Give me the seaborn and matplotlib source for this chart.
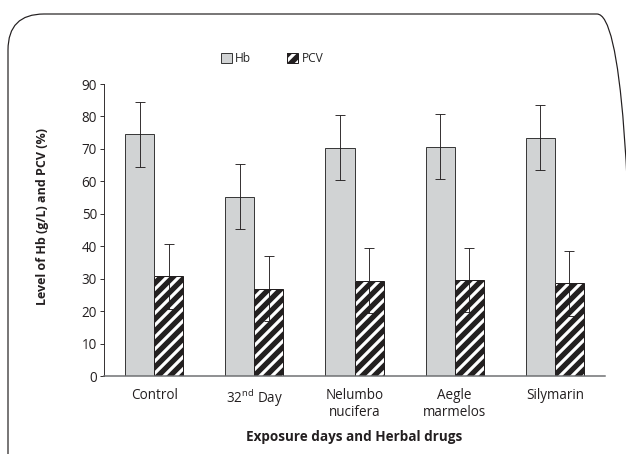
import numpy as np
import pandas as pd
import matplotlib
matplotlib.use("Agg")
import matplotlib.pyplot as plt
import seaborn as sns
from matplotlib.patches import FancyBboxPatch, Rectangle, Patch
from matplotlib.legend_handler import HandlerTuple

# ---- data --------------------------------------------------------------
groups = ["Control", "32$^{\\mathrm{nd}}$ Day", "Nelumbo\nnucifera",
          "Aegle\nmarmelos", "Silymarin"]
hb = [74.5, 55.3, 70.3, 70.6, 73.4]
pcv = [30.7, 26.9, 29.3, 29.6, 28.6]
hb_err = [10, 10, 10, 10, 10]
pcv_err = [10, 10, 10, 10, 10]
series = ["Hb", "PCV"]

df = pd.DataFrame({
    "group": groups * 2,
    "value": hb + pcv,
    "series": [series[0]] * len(groups) + [series[1]] * len(groups),
})

# ---- style -------------------------------------------------------------
sns.set_style("ticks")
plt.rcParams["font.family"] = ["Open Sans", "DejaVu Sans"]
plt.rcParams["mathtext.fontset"] = "custom"
plt.rcParams["mathtext.rm"] = "Open Sans"
plt.rcParams["hatch.linewidth"] = 3.2

GREY = "#d1d3d4"
DARK = "#231f20"
DPI = 72
fig = plt.figure(figsize=(626 / DPI, 454 / DPI), dpi=DPI)
ax = fig.add_axes([104 / 626, 78 / 454, 501 / 626, 292 / 454])

sns.barplot(data=df, x="group", y="value", hue="series", hue_order=series,
            palette=[GREY, DARK], width=0.58, gap=0, errorbar=None,
            edgecolor="#3a3a3a", linewidth=1.0, legend=False, ax=ax)

# PCV bars: black with white diagonal stripes
hb_bars, pcv_bars = ax.containers[0], ax.containers[1]
for p in pcv_bars:
    p.set_hatch("//")
    p.set_edgecolor("white")
    p.set_linewidth(0)
    ax.add_patch(Rectangle((p.get_x(), 0), p.get_width(), p.get_height(),
                           fill=False, edgecolor=DARK, linewidth=1.0,
                           zorder=p.get_zorder() + 0.1))

# error bars
for bars, vals, errs in [(hb_bars, hb, hb_err), (pcv_bars, pcv, pcv_err)]:
    xs = [p.get_x() + p.get_width() / 2 for p in bars]
    ax.errorbar(xs, vals, yerr=errs, fmt="none", ecolor=DARK,
                elinewidth=0.9, capsize=5, capthick=0.9, zorder=5)

ax.set_ylim(0, 90)
ax.set_xlim(-0.5, 4.5)
ax.set_yticks(np.arange(0, 91, 10))
ax.tick_params(axis="y", length=4, width=0.9, color=DARK, labelsize=13.5,
               pad=3, labelcolor=DARK)
ax.tick_params(axis="x", length=0, labelsize=13.5, pad=12, labelcolor=DARK)
sns.despine(ax=ax)
ax.spines["left"].set_color(DARK)
ax.spines["left"].set_linewidth(0.9)
ax.spines["bottom"].set_color("#6d6e71")
ax.spines["bottom"].set_linewidth(1.5)

ax.set_xlabel("Exposure days and Herbal drugs", fontsize=13.5,
              fontweight="bold", va="center", color=DARK)
ax.xaxis.set_label_coords(0.5, -0.21)
ax.set_ylabel("Level of Hb (g/L) and PCV (%)", fontsize=12.5,
              fontweight="bold", va="center", color=DARK)
ax.yaxis.set_label_coords(-0.122, 0.545)

# legend
h_hb = Patch(facecolor=GREY, edgecolor="#3a3a3a", linewidth=1.0)
h_pcv_fill = Patch(facecolor=DARK, edgecolor="white", hatch="//", linewidth=0)
h_pcv_edge = Patch(facecolor="none", edgecolor=DARK, linewidth=1.0)
fig.legend([h_hb, (h_pcv_fill, h_pcv_edge)], series,
           handler_map={tuple: HandlerTuple(ndivide=1)},
           loc="center", bbox_to_anchor=(272 / 626, 1 - 59 / 454),
           ncol=2, frameon=False, fontsize=12, handlelength=0.9,
           handleheight=0.9, handletextpad=0.3, columnspacing=3.0)

# rounded frame around the figure (right side runs off the page)
frame = FancyBboxPatch((8 / DPI, -60 / DPI), (633 - 8) / DPI, (440 + 60) / DPI,
                       boxstyle="round,pad=0,rounding_size=0.5",
                       transform=fig.dpi_scale_trans, fill=False,
                       edgecolor=DARK, linewidth=1.2)
fig.add_artist(frame)

fig.savefig("out.png", dpi=DPI)
